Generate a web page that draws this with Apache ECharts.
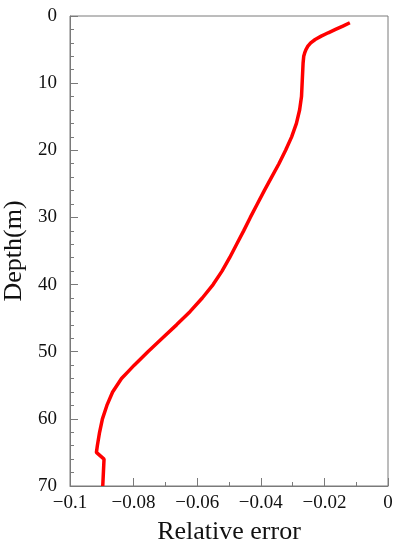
<!DOCTYPE html>
<html>
<head>
<meta charset="utf-8">
<script src="https://cdn.jsdelivr.net/npm/echarts@6/dist/echarts.min.js"></script>
<style>
  html, body { margin: 0; padding: 0; background: #fff; }
  #chart { width: 405px; height: 550px; }
</style>
</head>
<body>
<div id="chart"></div>
<script>
// depth (m) and relative error
const depths = [1, 1.5, 2, 2.5, 3, 3.5, 4, 4.5, 5, 5.5, 6, 7, 8, 10, 12, 14, 16, 18, 20, 22, 24, 26, 28, 30, 32, 34, 36, 38, 40, 42, 44, 46, 48, 50, 52, 53, 54, 56, 58, 60, 62, 64, 65, 66, 68, 70];
const relErr = [-0.0120, -0.0142, -0.0165, -0.0188, -0.0210, -0.0229, -0.0243, -0.0252, -0.0258, -0.0262,
  -0.0265, -0.0267, -0.0268, -0.0270, -0.0272, -0.0278, -0.0288, -0.0303, -0.0322, -0.0343,
  -0.0366, -0.0389, -0.0411, -0.0433, -0.0454, -0.0476, -0.0498, -0.0522, -0.0550, -0.0584,
  -0.0622, -0.0665, -0.0710, -0.0755, -0.0798, -0.0818, -0.0838, -0.0866, -0.0884, -0.0898,
  -0.0907, -0.0914, -0.0917, -0.0893, -0.0895, -0.0897];
const xTicks = { '-0.1': '−0.1', '-0.08': '−0.08', '-0.06': '−0.06', '-0.04': '−0.04', '-0.02': '−0.02', '0': '0' };

const chart = echarts.init(document.getElementById('chart'));
const font = '"Liberation Serif", "Times New Roman", serif';
const gray = '#7a7a7a';

chart.setOption({
  animation: false,
  grid: {
    left: 70, right: 17, top: 16, bottom: 64,
    outerBoundsMode: 'none',
    containLabel: false,
    show: true, borderColor: gray, borderWidth: 1, backgroundColor: 'transparent'
  },
  xAxis: {
    type: 'value',
    position: 'bottom',
    min: -0.1, max: 0, interval: 0.02,
    name: 'Relative error',
    nameLocation: 'middle',
    nameGap: 33,
    nameTextStyle: { fontFamily: font, fontSize: 26, color: '#111' },
    axisLine: { show: true, onZero: false, lineStyle: { color: gray } },
    axisTick: { show: true, inside: true, length: 8, lineStyle: { color: gray } },
    minorTick: { show: true, splitNumber: 2, length: 4, lineStyle: { color: gray } },
    splitLine: { show: false },
    axisLabel: {
      fontFamily: font, fontSize: 19, color: '#111', margin: 8,
      formatter: v => xTicks[String(Math.round(v * 100) / 100)] ?? String(v)
    }
  },
  yAxis: {
    type: 'value',
    position: 'left',
    inverse: true,
    min: 0, max: 70, interval: 10,
    name: 'Depth(m)',
    nameLocation: 'middle',
    nameGap: 31,
    nameRotate: 90,
    nameTextStyle: { fontFamily: font, fontSize: 26, color: '#111' },
    axisLine: { show: true, onZero: false, lineStyle: { color: gray } },
    axisTick: { show: true, inside: true, length: 8, lineStyle: { color: gray } },
    minorTick: { show: true, splitNumber: 5, length: 4, lineStyle: { color: gray } },
    splitLine: { show: false },
    axisLabel: { fontFamily: font, fontSize: 19, color: '#111', margin: 13 }
  },
  series: [{
    type: 'line',
    data: depths.map((d, i) => [relErr[i], d]),
    showSymbol: false,
    smooth: false,
    lineStyle: { color: '#ff0000', width: 3.5 }
  }]
});
</script>
</body>
</html>
